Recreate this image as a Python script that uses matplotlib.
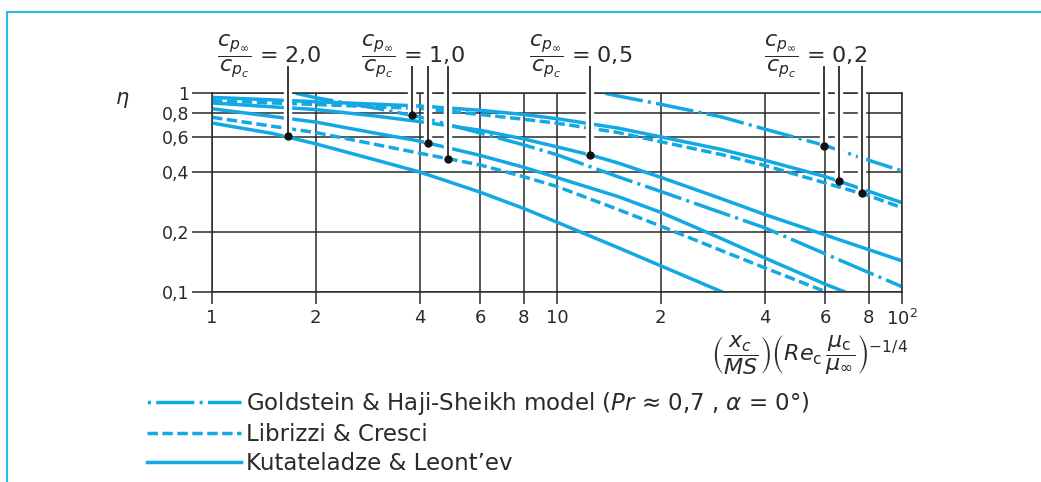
import matplotlib
matplotlib.use('Agg')
import matplotlib.pyplot as plt
import matplotlib.patheffects as pe
from matplotlib.lines import Line2D
from matplotlib.patches import Rectangle

plt.rcParams['font.family'] = ['DejaVu Sans']
plt.rcParams['mathtext.fontset'] = 'dejavusans'

blue = '#12a8e4'
ink = '#2a2a2a'

# --- curves (xi, eta) ---
# cp_inf/cp_c = 0.2
xi_g02 = [13.8, 15, 20, 30, 40, 60, 80, 100]
eta_g02 = [1.0, 0.97, 0.88, 0.76, 0.66, 0.545, 0.46, 0.406]
xi_k02 = [1, 2, 4, 6, 8, 10, 15, 20, 30, 40, 60, 80, 100]
eta_k02 = [0.954, 0.907, 0.863, 0.821, 0.782, 0.745, 0.668, 0.603, 0.521, 0.46, 0.38, 0.321, 0.281]
xi_l02 = [1, 2, 4, 6, 8, 10, 15, 20, 30, 40, 60, 80, 100]
eta_l02 = [0.918, 0.878, 0.839, 0.782, 0.74, 0.707, 0.635, 0.57, 0.491, 0.433, 0.353, 0.305, 0.265]

# cp_inf/cp_c = 0.5
xi_k05 = [1, 2, 3, 4, 6, 8, 10, 12.5, 15, 20, 30, 40, 60, 80, 100]
eta_k05 = [0.894, 0.828, 0.767, 0.72, 0.651, 0.589, 0.537, 0.489, 0.446, 0.377, 0.294, 0.245, 0.193, 0.163, 0.143]

# cp_inf/cp_c = 1.0
xi_g10 = [1.75, 2, 3, 4, 6, 8, 10, 15, 20, 30, 40, 60, 80, 100]
eta_g10 = [1.0, 0.95, 0.84, 0.76, 0.63, 0.55, 0.49, 0.38, 0.32, 0.25, 0.21, 0.155, 0.125, 0.106]
xi_k10 = [1, 1.5, 2, 3, 4, 6, 8, 10, 15, 20, 30, 40, 60, 68]
eta_k10 = [0.836, 0.764, 0.716, 0.628, 0.574, 0.486, 0.424, 0.376, 0.302, 0.251, 0.185, 0.148, 0.109, 0.100]
xi_l10 = [1, 1.5, 2, 3, 4, 6, 8, 10, 15, 20, 30, 40, 60]
eta_l10 = [0.757, 0.682, 0.634, 0.551, 0.499, 0.435, 0.380, 0.339, 0.260, 0.214, 0.161, 0.132, 0.100]

# cp_inf/cp_c = 2.0
xi_k20 = [1, 1.5, 2, 3, 4, 6, 8, 10, 15, 20, 30]
eta_k20 = [0.708, 0.627, 0.556, 0.460, 0.401, 0.317, 0.263, 0.224, 0.167, 0.135, 0.100]

# leader lines (dot positions)
leader_x = [1.66, 3.79, 4.24, 4.84, 12.47, 59.5, 65.8, 76.4]
leader_eta = [0.607, 0.78, 0.562, 0.465, 0.491, 0.544, 0.361, 0.313]
leader_top = 1.37

ratio_labels = ['2,0', '1,0', '0,5', '0,2']
ratio_left_px = [217, 361, 529, 764]

xticks = [1, 2, 4, 6, 8, 10, 20, 40, 60, 80, 100]
xticklabels = ['1', '2', '4', '6', '8', '10', '2', '4', '6', '8', r'$10^2$']
yticks = [0.1, 0.2, 0.4, 0.6, 0.8, 1]
yticklabels = ['0,1', '0,2', '0,4', '0,6', '0,8', '1']

ls_dash = (0, (3, 1.3))
ls_dashdot = (0, (11, 1.5, 0.9, 1.5))

W, H = 1041, 482
fig = plt.figure(figsize=(W / 100, H / 100), dpi=100)
ax = fig.add_axes([212 / W, 1 - 291.7 / H, 690 / W, 198.4 / H])
ax.set_xscale('log')
ax.set_yscale('log')
ax.set_xlim(1, 100)
ax.set_ylim(0.1, 1)

lw = 2.5
ax.plot(xi_k20, eta_k20, color=blue, lw=lw, ls='-')
ax.plot(xi_l10, eta_l10, color=blue, lw=lw, ls=ls_dash)
ax.plot(xi_k10, eta_k10, color=blue, lw=lw, ls='-')
ax.plot(xi_g10, eta_g10, color=blue, lw=lw, ls=ls_dashdot)
ax.plot(xi_k05, eta_k05, color=blue, lw=lw, ls='-')
ax.plot(xi_l02, eta_l02, color=blue, lw=lw, ls=ls_dash)
ax.plot(xi_k02, eta_k02, color=blue, lw=lw, ls='-')
ax.plot(xi_g02, eta_g02, color=blue, lw=lw, ls=ls_dashdot)

# axes / grid
ax.set_xticks(xticks)
ax.set_xticklabels(xticklabels)
ax.set_yticks(yticks)
ax.set_yticklabels(yticklabels)
ax.minorticks_off()
ax.grid(True, which='major', color=ink, lw=1.1)
ax.tick_params(axis='y', length=14.4, width=1.1, color=ink, pad=2, labelsize=12.5, labelcolor=ink)
ax.tick_params(axis='x', length=8.6, width=1.1, color=ink, pad=4, labelsize=13, labelcolor=ink)
for s in ax.spines.values():
    s.set_color(ink)
    s.set_linewidth(1.1)

ax.text(-0.13, 0.965, r'$\eta$', transform=ax.transAxes, fontsize=15,
        ha='center', va='center', color=ink)

# leaders with white halo
halo = [pe.Stroke(linewidth=6, foreground='white'), pe.Normal()]
for lx, ly in zip(leader_x, leader_eta):
    ax.plot([lx, lx], [ly, leader_top], color=ink, lw=1.3, clip_on=False,
            zorder=6, solid_capstyle='butt', path_effects=halo)
    ax.plot(lx, ly, 'o', ms=5, color='#111111', zorder=7, clip_on=False)

for lab, px in zip(ratio_labels, ratio_left_px):
    fig.text(px / W, 1 - 57 / H, r'$\dfrac{c_{p_\infty}}{c_{p_c}}$ = ' + lab,
             ha='left', va='center', fontsize=16, color=ink)

fig.text(809 / W, 1 - 354 / H,
         r'$\left(\dfrac{x_c}{MS}\right)\left(Re_\mathrm{c}\,\dfrac{\mu_\mathrm{c}}{\mu_\infty}\right)^{-1/4}$',
         ha='center', va='center', fontsize=16, color=ink)

handles = [Line2D([], [], color=blue, lw=lw, ls=(12.4, (11, 1.5, 0.9, 1.5))),
           Line2D([], [], color=blue, lw=lw, ls=ls_dash),
           Line2D([], [], color=blue, lw=lw, ls='-')]
labels = [r'Goldstein & Haji-Sheikh model ($Pr$ ≈ 0,7 , $\alpha$ = 0°)',
          'Librizzi & Cresci',
          'Kutateladze & Leont’ev']
leg = fig.legend(handles, labels, loc='upper left', bbox_to_anchor=(147 / W, 1 - 390 / H),
                 frameon=False, fontsize=16.5, handlelength=4.1, handletextpad=0.22,
                 labelspacing=0.26, borderpad=0, borderaxespad=0)
for t in leg.get_texts():
    t.set_color(ink)

fig.add_artist(Rectangle((7 / W, -0.1), 1.2, 1.1 - 12 / H, transform=fig.transFigure,
                         fill=False, ec='#2bbbe9', lw=1.5))

fig.savefig('out.png', dpi=100)
